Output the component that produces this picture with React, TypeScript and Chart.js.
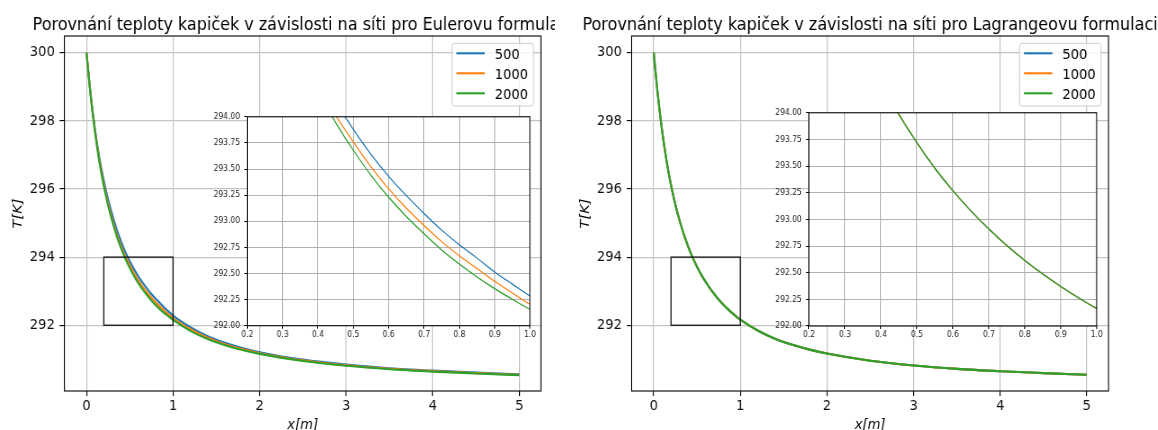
import React, { useEffect, useRef } from 'react';
import { Chart, registerables } from 'chart.js';

Chart.register(...registerables);

// ---------------- data ----------------
const X_POS = [0, 0.05, 0.1, 0.15, 0.2, 0.25, 0.3, 0.35, 0.4, 0.45, 0.5, 0.55, 0.6, 0.65, 0.7, 0.75, 0.8, 0.85, 0.9, 0.95, 1.0, 1.2, 1.4, 1.6, 1.8, 2.0, 2.5, 3.0, 3.5, 4.0, 4.5, 5.0];

const EULER_500 = [300.0, 298.74, 297.72, 296.9, 296.24, 295.69, 295.23, 294.81, 294.455, 294.145, 293.88, 293.64, 293.43, 293.245, 293.075, 292.915, 292.775, 292.647, 292.515, 292.398, 292.285, 291.945, 291.68, 291.485, 291.33, 291.208, 290.99, 290.845, 290.74, 290.668, 290.61, 290.56];
const EULER_1000 = [300.0, 298.71, 297.67, 296.82, 296.14, 295.57, 295.09, 294.67, 294.315, 294.015, 293.76, 293.52, 293.31, 293.125, 292.96, 292.805, 292.67, 292.547, 292.425, 292.313, 292.205, 291.885, 291.635, 291.445, 291.3, 291.18, 290.97, 290.825, 290.725, 290.652, 290.595, 290.545];
const EULER_2000 = [300.0, 298.69, 297.63, 296.77, 296.08, 295.51, 295.03, 294.61, 294.255, 293.945, 293.68, 293.44, 293.23, 293.045, 292.88, 292.725, 292.59, 292.467, 292.355, 292.253, 292.155, 291.835, 291.595, 291.415, 291.275, 291.16, 290.95, 290.81, 290.71, 290.64, 290.585, 290.535];

const LAGRANGE_500 = [300.0, 298.7, 297.65, 296.8, 296.11, 295.54, 295.06, 294.65, 294.295, 293.985, 293.72, 293.48, 293.27, 293.08, 292.91, 292.755, 292.615, 292.487, 292.37, 292.263, 292.165, 291.845, 291.605, 291.425, 291.285, 291.17, 290.96, 290.82, 290.72, 290.65, 290.595, 290.545];
const LAGRANGE_1000 = [300.0, 298.7, 297.65, 296.8, 296.11, 295.54, 295.06, 294.65, 294.295, 293.985, 293.72, 293.48, 293.27, 293.08, 292.91, 292.755, 292.615, 292.487, 292.37, 292.263, 292.165, 291.845, 291.605, 291.425, 291.285, 291.17, 290.96, 290.82, 290.72, 290.65, 290.595, 290.545];
const LAGRANGE_2000 = [300.0, 298.7, 297.65, 296.8, 296.11, 295.54, 295.06, 294.65, 294.295, 293.985, 293.72, 293.48, 293.27, 293.08, 292.91, 292.755, 292.615, 292.487, 292.37, 292.263, 292.165, 291.845, 291.605, 291.425, 291.285, 291.17, 290.96, 290.82, 290.72, 290.65, 290.595, 290.545];

const SERIES_LABELS = ['500', '1000', '2000'];
const SERIES_COLORS = ['#1f77b4', '#ff7f0e', '#2ca02c'];

const TITLES = [
  'Porovnání teploty kapiček v závislosti na síti pro Eulerovu formulaci',
  'Porovnání teploty kapiček v závislosti na síti pro Lagrangeovu formulaci',
];
const X_LABEL = 'x[m]';
const Y_LABEL = 'T[K]';

const MAIN_X_TICKS = [0, 1, 2, 3, 4, 5];
const MAIN_Y_TICKS = [292, 294, 296, 298, 300];
const MAIN_X_RANGE = [-0.255, 5.25];
const MAIN_Y_RANGE = [290.07, 300.49];

const ZOOM_X_TICKS = [0.2, 0.3, 0.4, 0.5, 0.6, 0.7, 0.8, 0.9, 1.0];
const ZOOM_Y_TICKS = [292, 292.25, 292.5, 292.75, 293, 293.25, 293.5, 293.75, 294];
const ZOOM_X_RANGE = [0.2, 1.0];
const ZOOM_Y_RANGE = [292, 294];

// ---------------- layout / style ----------------
const FAMILY = "'DejaVu Sans', 'Liberation Sans', sans-serif";
const H = 430;
const SQUASH = 0.9;
const AX_T = 36;
const AX_B = 391;
const GRID_MAIN = '#c4c4c4';
const GRID_ZOOM = '#b0b0b0';

type Box = { L: number; R: number; T: number; B: number };
type Panel = { left: number; width: number; axL: number; axR: number; inset: Box };

const PANELS: Panel[] = [
  { left: 0, width: 555, axL: 64.4, axR: 540.9, inset: { L: 247.3, R: 530, T: 115, B: 325.7 } },
  { left: 578, width: 580, axL: 631.6, axR: 1108.5, inset: { L: 809, R: 1096.7, T: 111.7, B: 326 } },
];

function mainGeom(p: Panel) {
  const iw = Math.round(p.width / SQUASH);
  const sx = p.width / iw;
  return { cssLeft: p.left, cssTop: 0, cssW: p.width, cssH: H, iw, ih: H, sx };
}

function insetGeom(b: Box) {
  const padL = 45, padR = 12, padT = 8, padB = 20;
  const cssLeft = Math.floor(b.L - padL);
  const cssTop = Math.floor(b.T) - padT;
  const cssW = Math.ceil(b.R + padR) - cssLeft;
  const cssH = Math.ceil(b.B) + padB - cssTop;
  const iw = Math.round(cssW / SQUASH);
  const sx = cssW / iw;
  return { cssLeft, cssTop, cssW, cssH, iw, ih: cssH, sx };
}

function makeDatasets(series: number[][], width: number) {
  return series.map((ys, i) => ({
    label: SERIES_LABELS[i],
    data: X_POS.map((x, j) => ({ x, y: ys[j] })),
    borderColor: SERIES_COLORS[i],
    backgroundColor: SERIES_COLORS[i],
    borderWidth: width,
    pointRadius: 0,
    pointHoverRadius: 0,
    fill: false,
    cubicInterpolationMode: 'monotone' as const,
    clip: 0,
    order: series.length - i,
  }));
}

function buildMain(canvas: HTMLCanvasElement, p: Panel, series: number[][], title: string) {
  const g = mainGeom(p);
  const toC = (fx: number) => (fx - g.cssLeft) / g.sx;
  const aL = toC(p.axL);
  const aR = toC(p.axR);

  const decor = {
    id: 'decor',
    afterDraw(chart: any) {
      const ctx = chart.ctx as CanvasRenderingContext2D;
      const a = chart.chartArea;
      const xs = chart.scales.x;
      const ys = chart.scales.y;
      ctx.save();
      // zoom indicator rectangle
      const x1 = xs.getPixelForValue(ZOOM_X_RANGE[0]);
      const x2 = xs.getPixelForValue(ZOOM_X_RANGE[1]);
      const y1 = ys.getPixelForValue(ZOOM_Y_RANGE[1]);
      const y2 = ys.getPixelForValue(ZOOM_Y_RANGE[0]);
      ctx.strokeStyle = '#111';
      ctx.lineWidth = 1.3;
      ctx.strokeRect(x1, y1, x2 - x1, y2 - y1);
      // frame
      ctx.strokeStyle = '#000';
      ctx.lineWidth = 1.1;
      ctx.strokeRect(a.left, a.top, a.right - a.left, a.bottom - a.top);
      // legend
      const bw = 81.5 / g.sx;
      const bh = 62.7;
      const bx = a.right - 7.4 / g.sx - bw;
      const by = a.top + 7.3;
      ctx.beginPath();
      (ctx as any).roundRect(bx, by, bw, bh, 3);
      ctx.fillStyle = 'rgba(255,255,255,0.8)';
      ctx.fill();
      ctx.strokeStyle = '#cccccc';
      ctx.lineWidth = 1;
      ctx.stroke();
      chart.data.datasets.forEach((ds: any, i: number) => {
        const cy = by + 10 + 20 * i;
        ctx.beginPath();
        ctx.moveTo(bx + 4.4 / g.sx, cy);
        ctx.lineTo(bx + 32.7 / g.sx, cy);
        ctx.strokeStyle = ds.borderColor;
        ctx.lineWidth = 2.1;
        ctx.stroke();
        ctx.fillStyle = '#000';
        ctx.font = `14.6px ${FAMILY}`;
        ctx.textAlign = 'left';
        ctx.textBaseline = 'alphabetic';
        ctx.fillText(ds.label, bx + 42.7 / g.sx, cy + 5.3);
      });
      // title
      ctx.fillStyle = '#000';
      ctx.font = `17.8px ${FAMILY}`;
      ctx.textAlign = 'center';
      ctx.textBaseline = 'alphabetic';
      ctx.fillText(title, (a.left + a.right) / 2, 29.5);
      // x label
      ctx.font = `italic 14.6px ${FAMILY}`;
      ctx.fillText(X_LABEL, (a.left + a.right) / 2, 429);
      // y label
      ctx.translate(toC(p.axL - 42.6), (a.top + a.bottom) / 2);
      ctx.rotate(-Math.PI / 2);
      ctx.fillText(Y_LABEL, 0, 0);
      ctx.restore();
    },
  };

  return new Chart(canvas, {
    type: 'line',
    data: { datasets: makeDatasets(series, 2.1) as any },
    options: {
      responsive: false,
      animation: false,
      events: [],
      layout: { padding: { left: 0, right: g.iw - aR, top: AX_T, bottom: 0 } },
      plugins: { legend: { display: false }, title: { display: false }, tooltip: { enabled: false } },
      scales: {
        x: {
          type: 'linear',
          min: MAIN_X_RANGE[0],
          max: MAIN_X_RANGE[1],
          afterBuildTicks: (s: any) => {
            s.ticks = MAIN_X_TICKS.map((v) => ({ value: v }));
          },
          afterFit: (s: any) => {
            s.height = H - AX_B;
          },
          grid: { color: GRID_MAIN, lineWidth: 1.2, tickColor: '#000', tickLength: 4.9, tickWidth: 1.1 },
          border: { display: false },
          ticks: {
            font: { family: FAMILY, size: 14.6 },
            color: '#111',
            padding: 2,
            maxRotation: 0,
            autoSkip: false,
            callback: (v: any) => String(v),
          },
        },
        y: {
          type: 'linear',
          min: MAIN_Y_RANGE[0],
          max: MAIN_Y_RANGE[1],
          afterBuildTicks: (s: any) => {
            s.ticks = MAIN_Y_TICKS.map((v) => ({ value: v }));
          },
          afterFit: (s: any) => {
            s.width = aL;
          },
          grid: { color: GRID_MAIN, lineWidth: 1.2, tickColor: '#000', tickLength: 4.9 / g.sx, tickWidth: 1.1 },
          border: { display: false },
          ticks: {
            font: { family: FAMILY, size: 14.6 },
            color: '#111',
            padding: 4.7 / g.sx,
            autoSkip: false,
            callback: (v: any) => String(v),
          },
        },
      },
    },
    plugins: [decor],
  } as any);
}

function buildInset(canvas: HTMLCanvasElement, b: Box, series: number[][]) {
  const g = insetGeom(b);
  const toC = (fx: number) => (fx - g.cssLeft) / g.sx;
  const aL = toC(b.L);
  const aR = toC(b.R);
  const aT = b.T - g.cssTop;
  const aB = b.B - g.cssTop;

  const decor = {
    id: 'insetDecor',
    beforeDraw(chart: any) {
      const ctx = chart.ctx as CanvasRenderingContext2D;
      const a = chart.chartArea;
      ctx.save();
      ctx.fillStyle = '#ffffff';
      ctx.fillRect(a.left, a.top, a.right - a.left, a.bottom - a.top);
      ctx.restore();
    },
    afterDraw(chart: any) {
      const ctx = chart.ctx as CanvasRenderingContext2D;
      const a = chart.chartArea;
      ctx.save();
      ctx.strokeStyle = '#000';
      ctx.lineWidth = 1;
      ctx.strokeRect(a.left, a.top, a.right - a.left, a.bottom - a.top);
      ctx.restore();
    },
  };

  return new Chart(canvas, {
    type: 'line',
    data: { datasets: makeDatasets(series, 1.2) as any },
    options: {
      responsive: false,
      animation: false,
      events: [],
      layout: { padding: { left: 0, right: g.iw - aR, top: aT, bottom: 0 } },
      plugins: { legend: { display: false }, title: { display: false }, tooltip: { enabled: false } },
      scales: {
        x: {
          type: 'linear',
          min: ZOOM_X_RANGE[0],
          max: ZOOM_X_RANGE[1],
          afterBuildTicks: (s: any) => {
            s.ticks = ZOOM_X_TICKS.map((v) => ({ value: v }));
          },
          afterFit: (s: any) => {
            s.height = g.ih - aB;
          },
          grid: { color: GRID_ZOOM, lineWidth: 1, tickColor: '#000', tickLength: 3, tickWidth: 1 },
          border: { display: false },
          ticks: {
            font: { family: FAMILY, size: 8.4 },
            color: '#222',
            padding: 1.2,
            maxRotation: 0,
            autoSkip: false,
            callback: (v: any) => Number(v).toFixed(1),
          },
        },
        y: {
          type: 'linear',
          min: ZOOM_Y_RANGE[0],
          max: ZOOM_Y_RANGE[1],
          afterBuildTicks: (s: any) => {
            s.ticks = ZOOM_Y_TICKS.map((v) => ({ value: v }));
          },
          afterFit: (s: any) => {
            s.width = aL;
          },
          grid: { color: GRID_ZOOM, lineWidth: 1, tickColor: '#000', tickLength: 3 / g.sx, tickWidth: 1 },
          border: { display: false },
          ticks: {
            font: { family: FAMILY, size: 8.4 },
            color: '#222',
            padding: 4.3 / g.sx,
            autoSkip: false,
            callback: (v: any) => Number(v).toFixed(2),
          },
        },
      },
    },
    plugins: [decor],
  } as any);
}

const GEOMS = [mainGeom(PANELS[0]), mainGeom(PANELS[1]), insetGeom(PANELS[0].inset), insetGeom(PANELS[1].inset)];

export default function App() {
  const r0 = useRef<HTMLCanvasElement>(null);
  const r1 = useRef<HTMLCanvasElement>(null);
  const r2 = useRef<HTMLCanvasElement>(null);
  const r3 = useRef<HTMLCanvasElement>(null);
  const refs = [r0, r1, r2, r3];

  useEffect(() => {
    const charts = [
      buildMain(r0.current!, PANELS[0], [EULER_500, EULER_1000, EULER_2000], TITLES[0]),
      buildMain(r1.current!, PANELS[1], [LAGRANGE_500, LAGRANGE_1000, LAGRANGE_2000], TITLES[1]),
      buildInset(r2.current!, PANELS[0].inset, [EULER_500, EULER_1000, EULER_2000]),
      buildInset(r3.current!, PANELS[1].inset, [LAGRANGE_500, LAGRANGE_1000, LAGRANGE_2000]),
    ];
    return () => charts.forEach((c) => c.destroy());
  }, []);

  return (
    <div style={{ position: 'fixed', left: 0, top: 0, width: 1158, height: H, background: '#fff', overflow: 'hidden' }}>
      {GEOMS.map((g, i) => (
        <canvas
          key={i}
          ref={refs[i]}
          width={g.iw}
          height={g.ih}
          style={{ position: 'absolute', left: g.cssLeft, top: g.cssTop, width: g.cssW, height: g.cssH }}
        />
      ))}
    </div>
  );
}
